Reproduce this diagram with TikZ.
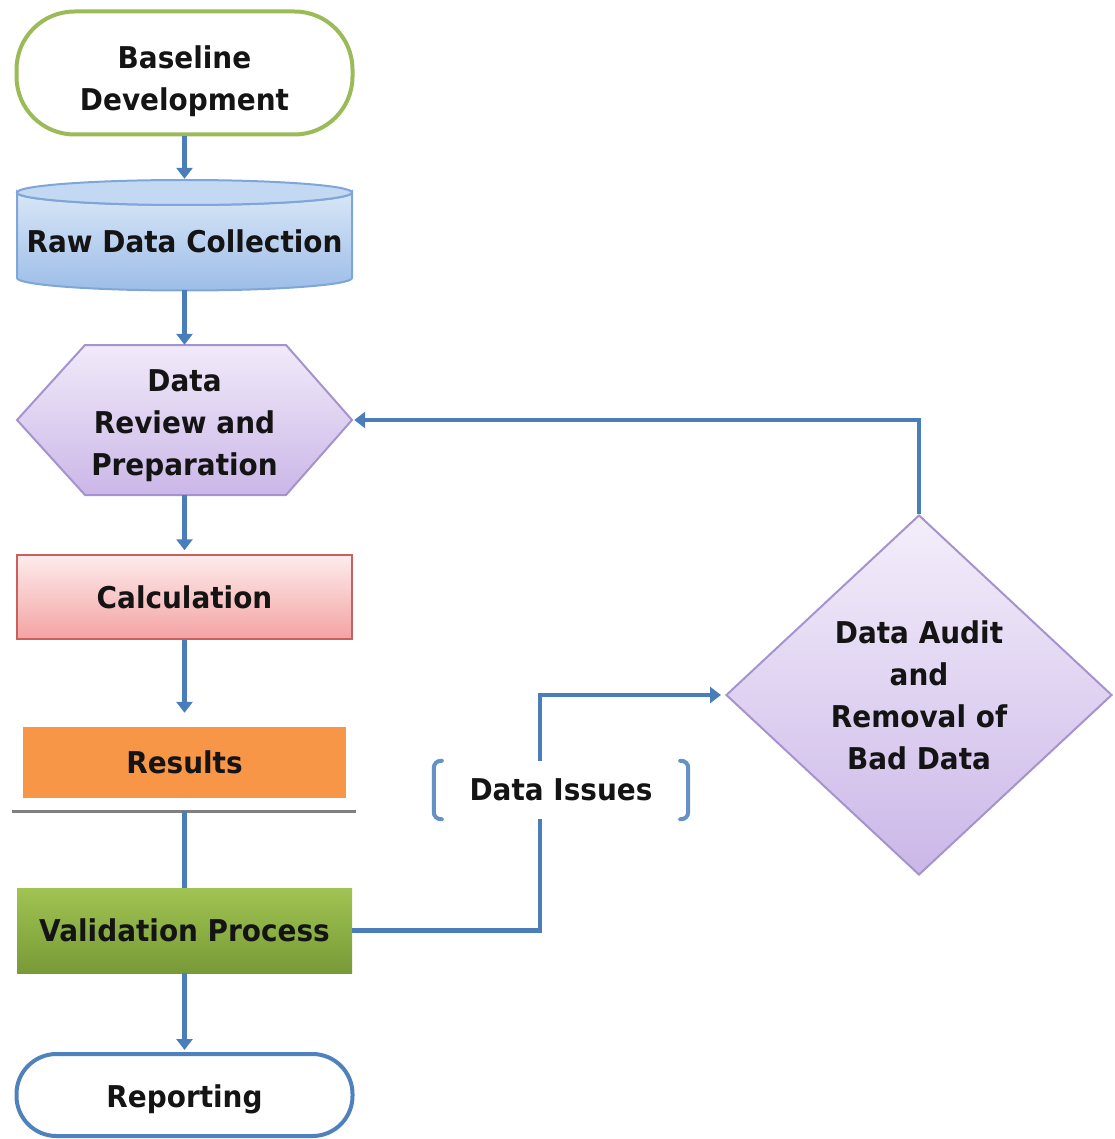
\documentclass[tikz,border=0pt]{standalone}
\usepackage{fontspec}
\newfontfamily\lblfont{DejaVu Sans}[FakeStretch=0.93]
\usetikzlibrary{arrows.meta,shapes.geometric,calc}
\definecolor{arrowblue}{HTML}{4A7EBB}
\definecolor{basegreen}{HTML}{9BBB59}
\definecolor{cyltop}{HTML}{D8E6F7}
\definecolor{cylbot}{HTML}{9DBDE8}
\definecolor{cylface}{HTML}{C3D8F2}
\definecolor{cylborder}{HTML}{7FA6D6}
\definecolor{hextop}{HTML}{F1EAF9}
\definecolor{hexbot}{HTML}{CBB7E8}
\definecolor{hexborder}{HTML}{A593CF}
\definecolor{calctop}{HTML}{FDECEC}
\definecolor{calcbot}{HTML}{F4A2A2}
\definecolor{calcborder}{HTML}{C9605D}
\definecolor{resorange}{HTML}{F79646}
\definecolor{valtop}{HTML}{A0C352}
\definecolor{valbot}{HTML}{789A37}
\definecolor{repblue}{HTML}{4F81BD}
\definecolor{sepgray}{HTML}{7F7F7F}
\newcommand{\lowertext}[2]{\raisebox{-#1}[\height][\depth]{\begin{tabular}{@{}c@{}}#2\end{tabular}}}
\begin{document}
\begin{tikzpicture}[x=1pt,y=-1pt,
  lbl/.style={font=\lblfont\bfseries\fontsize{30}{42}\selectfont, text=black!92, align=center},
  flow/.style={draw=arrowblue, line width=4.5pt, -{Triangle[length=11pt,width=16pt]}},
  plainline/.style={draw=arrowblue, line width=4.5pt},
  bracketline/.style={draw=arrowblue!85, line width=4pt, rounded corners=7pt, line cap=round},
  stadium/.style={line width=4pt, fill=white, inner sep=0pt},
  boxnode/.style={minimum width=335pt, inner sep=0pt}]
\useasboundingbox (0,0) rectangle (1114,1139);

% Baseline Development
\node[lbl, stadium, draw=basegreen, rounded corners=58pt, minimum width=336pt, minimum height=123pt] (base) at (184.5,73) {\lowertext{8pt}{Baseline\\Development}};

% Raw Data Collection (cylinder drawn directly)
\path[draw=cylborder, line width=2pt, top color=cyltop, bottom color=cylbot]
  (17,192.5) -- (17,278) arc[start angle=180, end angle=0, x radius=167.5, y radius=12.5]
  -- (352,192.5) arc[start angle=0, end angle=180, x radius=167.5, y radius=12.5] -- cycle;
\path[draw=cylborder, line width=2pt, fill=cylface] (184.5,192.5) ellipse [x radius=167.5, y radius=12.5];
\node[lbl, boxnode, minimum height=98pt] (cyl) at (184.5,241) {Raw Data Collection};

% Data Review and Preparation (hexagon)
\path[draw=hexborder, line width=2pt, top color=hextop, bottom color=hexbot]
  (17,420) -- (85,345) -- (286,345) -- (352,420) -- (286,495) -- (85,495) -- cycle;
\node[lbl, boxnode, minimum height=150pt] (hex) at (184.5,420) {\lowertext{5pt}{Data\\Review and\\Preparation}};

% Calculation
\node[lbl, boxnode, minimum height=84pt, draw=calcborder, line width=1.5pt, top color=calctop, bottom color=calcbot] (calc) at (184.5,597) {Calculation};

% Results
\node[lbl, minimum width=323pt, minimum height=71pt, inner sep=0pt, fill=resorange] (res) at (184.5,762.5) {Results};

% separator
\draw[sepgray, line width=3pt] (12,811) -- (356,811);
\coordinate (sep) at (184.5,811);

% Validation Process
\node[lbl, boxnode, minimum height=85pt, top color=valtop, bottom color=valbot] (valid) at (184.5,930.5) {Validation Process};

% Reporting
\node[lbl, stadium, draw=repblue, rounded corners=40pt, minimum width=336pt, minimum height=82pt] (rep) at (184.5,1095) {\lowertext{4pt}{Reporting}};

% Diamond
\node[lbl, diamond, draw=hexborder, line width=2pt, top color=hextop!80!white, bottom color=hexbot, minimum width=386pt, minimum height=360pt, inner sep=0pt] (dia) at (919,695) {Data Audit\\and\\Removal of\\Bad Data};

% main flow
\draw[flow] (base.south) -- ($(cyl.north)+(0,-13)$);
\draw[flow] (cyl.south) -- (hex.north);
\draw[flow, shorten >=4pt] (hex.south) -- (calc.north);
\draw[flow, shorten >=14pt] (calc.south) -- (res.north);
\draw[plainline] (sep) -- (valid.north);
\draw[flow, shorten >=2pt] (valid.south) -- (rep.north);

% feedback loops
\draw[flow, shorten >=4pt] (valid.east) -- ++(188,0) |- (dia.west);
\draw[flow, shorten >=2pt] (dia.north) |- (hex.east);

% Data Issues label
\node[lbl, fill=white, minimum width=254pt, minimum height=58pt, inner sep=0pt] (issues) at (561,790) {Data Issues};
\draw[bracketline] ([xshift=8pt]issues.north west) -- (issues.north west) -- (issues.south west) -- ([xshift=8pt]issues.south west);
\draw[bracketline] ([xshift=-8pt]issues.north east) -- (issues.north east) -- (issues.south east) -- ([xshift=-8pt]issues.south east);
\end{tikzpicture}
\end{document}
